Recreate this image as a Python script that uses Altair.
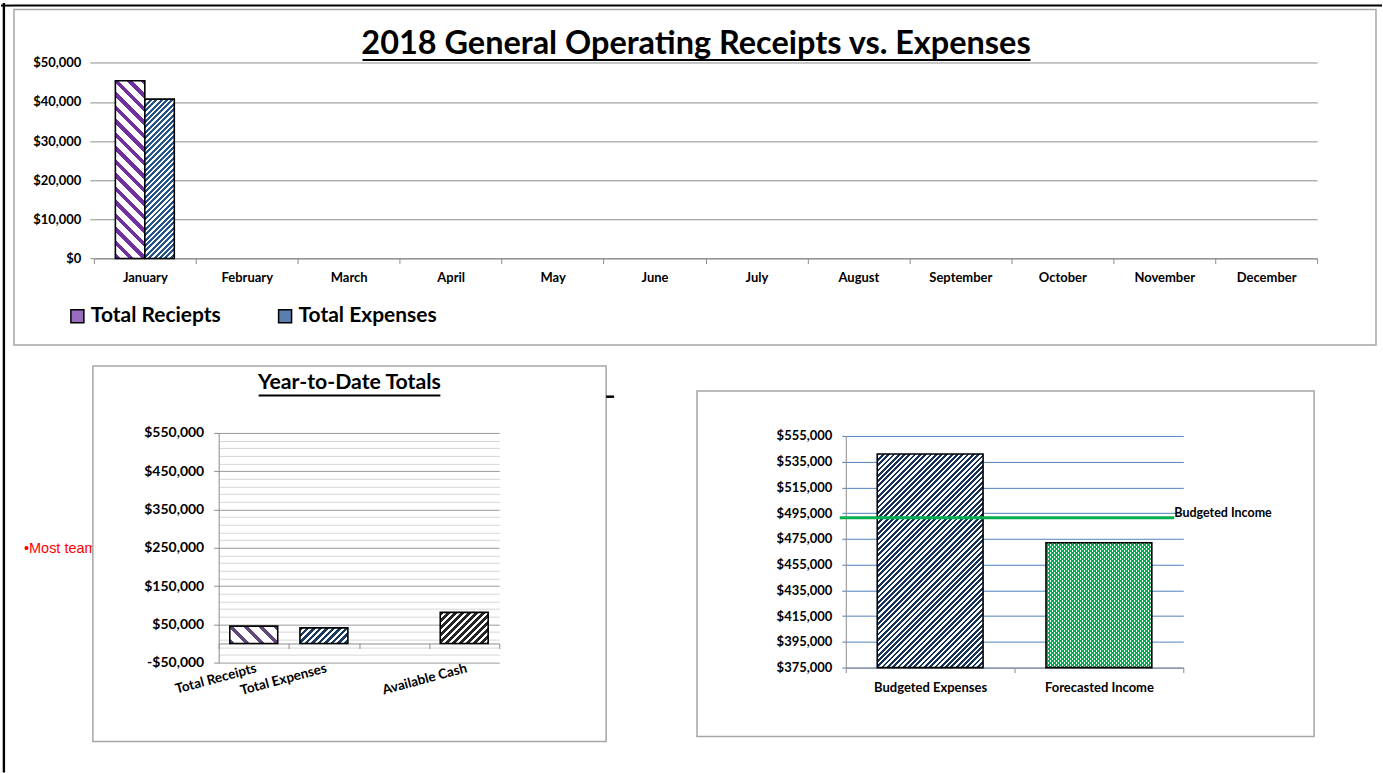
import altair as alt
import pandas as pd

# ---------------- data ----------------
months = ["January", "February", "March", "April", "May", "June",
          "July", "August", "September", "October", "November", "December"]
top_series = ["Total Reciepts", "Total Expenses"]
monthly_receipts = [45400, None, None, None, None, None, None, None, None, None, None, None]
monthly_expenses = [40700, None, None, None, None, None, None, None, None, None, None, None]
top_ticks = [0, 10000, 20000, 30000, 40000, 50000]

ytd_categories = ["Total Receipts", "Total Expenses", " ", "Available Cash"]
ytd_values = [45400, 40700, None, 81100]
ytd_major_ticks = [-50000, 50000, 150000, 250000, 350000, 450000, 550000]
ytd_grid_ticks = [m + 20000 * k for m in ytd_major_ticks[:-1] for k in range(5)] + [550000]

budget_categories = ["Budgeted Expenses", "Forecasted Income"]
budget_values = [541000, 472000]
budgeted_income = 491400
budget_ticks = [375000, 395000, 415000, 435000, 455000, 475000, 495000, 515000, 535000, 555000]

top_title = "2018 General Operating Receipts vs. Expenses"
ytd_title = "Year-to-Date Totals"
income_label = "Budgeted Income"
red_note = "\u2022Most teams"

# ---------------- style ----------------
FONT = "Lato"
FRAME = "#a6a6a6"
GRAY = "#8c8c8c"
BLUE_GRID = "#4f81bd"
PURPLE = "#7030a0"
BLUE = "#24528a"
PURPLE2 = "#5f497a"
NAVY = "#1c3a60"
BLACKISH = "#262626"
NAVY2 = "#17325a"
GREEN = "#00b050"


def stripes(w, h, c1, c2, period, frac, direction):
    """Diagonal hatch built from a hard-stop linear gradient (bbox units)."""
    d = w + h
    s = d / (w * w + h * h)
    if direction == "/":
        x1, y1, x2, y2 = 0, 0, s * w, s * h
    else:
        x1, y1, x2, y2 = 0, 1, s * w, 1 - s * h
    stops = []
    k = 0
    while k * period < d:
        a = k * period / d
        b = min((k + frac) * period / d, 1.0)
        c = min((k + 1) * period / d, 1.0)
        stops += [
            alt.GradientStop(offset=round(a, 5), color=c1),
            alt.GradientStop(offset=round(b, 5), color=c1),
            alt.GradientStop(offset=round(b, 5), color=c2),
            alt.GradientStop(offset=round(c, 5), color=c2),
        ]
        k += 1
    return alt.LinearGradient(gradient="linear", stops=stops,
                              x1=round(x1, 5), y1=round(y1, 5),
                              x2=round(x2, 5), y2=round(y2, 5))


def spacer(w, h):
    return alt.Chart(pd.DataFrame({"t": [""]})).mark_text().encode(
        text="t:N").properties(width=w, height=h)


def one_row():
    return alt.Chart(pd.DataFrame({"a": [0]}))


# ================= top panel =================
TOP_W, TOP_H = 1364, 336
TOP_X0, TOP_X1 = 80, 1305
TOP_Y0, TOP_Y1 = 249.3, 53.3
TOP_OPAD = 0.73
top_step = (TOP_X1 - TOP_X0) / len(months)
top_bar_w = top_step / (2 + 2 * TOP_OPAD)
top_ppx = (TOP_Y0 - TOP_Y1) / 50000

top_df = pd.DataFrame({
    "month": months * 2,
    "series": [top_series[0]] * len(months) + [top_series[1]] * len(months),
    "value": monthly_receipts + monthly_expenses,
})

x_top = alt.X("month:N", sort=months,
              scale=alt.Scale(domain=months, range=[TOP_X0, TOP_X1], paddingInner=0, paddingOuter=0),
              axis=alt.Axis(title=None, orient="bottom", offset=-(TOP_H - TOP_Y0), labelAngle=0,
                            labelFontSize=13, labelPadding=8, tickSize=5, tickColor=GRAY,
                            domainColor=GRAY, tickBand="extent", grid=False, labelOverlap=False))
xo_top = alt.XOffset("series:N", sort=top_series,
                     scale=alt.Scale(domain=top_series, paddingInner=0, paddingOuter=TOP_OPAD))
y_top = alt.Y("value:Q",
              scale=alt.Scale(domain=[0, 50000], range=[TOP_Y0, TOP_Y1], nice=False, zero=False),
              axis=alt.Axis(title=None, values=top_ticks, format="$,.0f", offset=-TOP_X0,
                            domain=False, tickSize=4, tickColor=GRAY, grid=True, gridColor=GRAY,
                            labelFontSize=13, labelPadding=9, labelOverlap=False))

g_rec = stripes(top_bar_w, monthly_receipts[0] * top_ppx, PURPLE, "white", 13.5, 0.4, "\\")
g_exp = stripes(top_bar_w, monthly_expenses[0] * top_ppx, BLUE, "white", 5.4, 0.55, "/")

base_top = alt.Chart(top_df)
top_bars_r = base_top.transform_filter(alt.datum.series == top_series[0]).mark_bar(
    fill=g_rec, stroke="black", strokeWidth=1.6).encode(x=x_top, xOffset=xo_top, y=y_top, y2=alt.datum(0))
top_bars_e = base_top.transform_filter(alt.datum.series == top_series[1]).mark_bar(
    fill=g_exp, stroke="black", strokeWidth=1.6).encode(x=x_top, xOffset=xo_top, y=y_top, y2=alt.datum(0))

top_legend = base_top.mark_square(size=0).encode(
    x=x_top, xOffset=xo_top, y=y_top,
    color=alt.Color("series:N", sort=top_series,
                    scale=alt.Scale(domain=top_series, range=["#9a6cc0", "#5a7fae"]),
                    legend=alt.Legend(
                        title=None, orient="none", legendX=66, legendY=305.5, direction="horizontal",
                        symbolType="square", symbolSize=169, symbolStrokeColor="black",
                        symbolStrokeWidth=1.5, symbolOpacity=1, labelFont=FONT, labelFontSize=21,
                        labelFontWeight="bold", labelColor="black", labelOffset=3,
                        columnPadding=53, padding=0)))

top_title_mark = one_row().mark_text(align="center", baseline="alphabetic", font=FONT, fontSize=32.5,
                                     fontWeight="bold", color="black").encode(
    x=alt.value(TOP_W / 2 + 1), y=alt.value(44.3), text=alt.value(top_title))
top_underline = one_row().mark_rule(color="black", strokeWidth=2).encode(
    x=alt.value(349), x2=alt.value(1018), y=alt.value(50.5))

top_panel = alt.layer(top_bars_r, top_bars_e, top_legend, top_title_mark, top_underline).properties(
    width=TOP_W, height=TOP_H, view=alt.ViewBackground(stroke=FRAME, strokeWidth=1.5))

# ================= bottom-left panel =================
L_W, L_H = 514, 376
L_X0, L_X1 = 126, 407
L_YB, L_YT = 297, 67
L_BAND = 0.683
l_ppx = (L_YB - L_YT) / 600000
l_zero_px = L_YB - 50000 * l_ppx
l_bar_w = L_BAND * (L_X1 - L_X0) / len(ytd_categories)

ytd_df = pd.DataFrame({"cat": ytd_categories, "value": ytd_values})
major_test = "(datum.value + 50000) % 100000 == 0"
x_left = alt.X("cat:N", sort=ytd_categories,
               scale=alt.Scale(domain=ytd_categories, range=[L_X0, L_X1], paddingInner=0, paddingOuter=0),
               axis=alt.Axis(title=None, orient="bottom", offset=-(L_H - l_zero_px), labels=False,
                             tickSize=5, tickColor=GRAY, domainColor=GRAY, tickBand="extent", grid=False))
y_left_scale = alt.Scale(domain=[-50000, 550000], range=[L_YB, L_YT], nice=False, zero=False)
y_left_axis = alt.Axis(title=None, values=ytd_grid_ticks, offset=-L_X0,
                       labelExpr="%s ? ((datum.value < 0 ? '-' : '') + '$' + format(abs(datum.value), ',')) : ''" % major_test,
                       domain=True, domainColor=GRAY, tickSize=5,
                       tickColor={"condition": {"test": major_test, "value": GRAY}, "value": "transparent"},
                       grid=True,
                       gridColor={"condition": {"test": major_test, "value": "#9a9a9a"}, "value": "#d6d6d6"},
                       labelFontSize=14, labelPadding=10, labelOverlap=False)
y_left = alt.Y("value:Q", scale=y_left_scale, axis=y_left_axis)

l_specs = [
    (ytd_categories[0], stripes(l_bar_w, ytd_values[0] * l_ppx, PURPLE2, "white", 15, 0.33, "\\")),
    (ytd_categories[1], stripes(l_bar_w, ytd_values[1] * l_ppx, NAVY, "white", 6.5, 0.5, "/")),
    (ytd_categories[3], stripes(l_bar_w, ytd_values[3] * l_ppx, BLACKISH, "white", 7, 0.55, "/")),
]
l_layers = []
for cat, grad in l_specs:
    l_layers.append(alt.Chart(ytd_df).transform_filter(alt.datum.cat == cat).mark_bar(
        fill=grad, stroke="black", strokeWidth=1.6, width=alt.RelativeBandSize(L_BAND)).encode(
        x=x_left, y=y_left, y2=alt.datum(0)))

l_labels = alt.Chart(ytd_df).mark_text(angle=345, align="right", baseline="top", dx=1, dy=-1,
                                       font=FONT, fontWeight="bold", fontSize=13.5, color="black").encode(
    x=x_left, y=alt.Y(datum=-50000, scale=y_left_scale, axis=y_left_axis), text="cat:N")
l_title = one_row().mark_text(align="center", baseline="alphabetic", font=FONT, fontSize=21.3,
                              fontWeight="bold", color="black").encode(
    x=alt.value(257), y=alt.value(23.5), text=alt.value(ytd_title))
l_underline = one_row().mark_rule(color="black", strokeWidth=2).encode(
    x=alt.value(166), x2=alt.value(348), y=alt.value(29.5))
l_dash = one_row().mark_rule(color="black", strokeWidth=2.5).encode(
    x=alt.value(514), x2=alt.value(522), y=alt.value(30.7))

left_panel = alt.layer(*l_layers, l_labels, l_title, l_underline, l_dash).properties(
    width=L_W, height=L_H, view=alt.ViewBackground(stroke=FRAME, strokeWidth=1.5))

# ================= bottom-right panel =================
R_W, R_H = 618, 346
R_X0, R_X1 = 149, 487
R_YB, R_YT = 277, 45
R_BAND = 0.627
r_ppx = (R_YB - R_YT) / 180000
r_bar_w = R_BAND * (R_X1 - R_X0) / len(budget_categories)

bud_df = pd.DataFrame({"cat": budget_categories, "value": budget_values})
x_right = alt.X("cat:N", sort=budget_categories,
                scale=alt.Scale(domain=budget_categories, range=[R_X0, R_X1], paddingInner=0, paddingOuter=0),
                axis=alt.Axis(title=None, orient="bottom", offset=-(R_H - R_YB), labelAngle=0,
                              labelFontSize=13, labelPadding=9, tickSize=5, tickColor=GRAY,
                              domainColor=GRAY, tickBand="extent", grid=False, labelOverlap=False))
y_right = alt.Y("value:Q",
                scale=alt.Scale(domain=[375000, 555000], range=[R_YB, R_YT], nice=False, zero=False),
                axis=alt.Axis(title=None, values=budget_ticks, format="$,.0f", offset=-R_X0,
                              domain=True, domainColor=GRAY, tickSize=4, tickColor=BLUE_GRID,
                              grid=True, gridColor=BLUE_GRID, labelFontSize=13, labelPadding=10,
                              labelOverlap=False))

h_exp = (budget_values[0] - 375000) * r_ppx
h_inc = (budget_values[1] - 375000) * r_ppx
r_exp = alt.Chart(bud_df).transform_filter(alt.datum.cat == budget_categories[0]).mark_bar(
    fill=stripes(r_bar_w, h_exp, NAVY2, "white", 5.3, 0.52, "/"), stroke="black", strokeWidth=1.6,
    width=alt.RelativeBandSize(R_BAND)).encode(x=x_right, y=y_right, y2=alt.datum(375000))
r_inc_a = alt.Chart(bud_df).transform_filter(alt.datum.cat == budget_categories[1]).mark_bar(
    fill=stripes(r_bar_w, h_inc, GREEN, "white", 4, 0.5, "/"),
    width=alt.RelativeBandSize(R_BAND)).encode(x=x_right, y=y_right, y2=alt.datum(375000))
r_inc_b = alt.Chart(bud_df).transform_filter(alt.datum.cat == budget_categories[1]).mark_bar(
    fill=stripes(r_bar_w, h_inc, GREEN, "rgba(0,176,80,0)", 4, 0.5, "\\"),
    stroke="black", strokeWidth=1.6,
    width=alt.RelativeBandSize(R_BAND)).encode(x=x_right, y=y_right, y2=alt.datum(375000))

inc_df = pd.DataFrame({"label": [income_label], "value": [budgeted_income]})
r_line = alt.Chart(inc_df).mark_rule(color=GREEN, strokeWidth=3).encode(
    x=alt.value(143), x2=alt.value(478), y=y_right)
r_text = alt.Chart(inc_df).mark_text(align="left", baseline="middle", dy=-5, font=FONT,
                                     fontWeight="bold", fontSize=12.5, color="black").encode(
    x=alt.value(478), y=y_right, text="label:N")

right_panel = alt.layer(r_exp, r_inc_a, r_inc_b, r_line, r_text).properties(
    width=R_W, height=R_H, view=alt.ViewBackground(stroke=FRAME, strokeWidth=1.5))

# ================= page decorations & layout =================
left_col = alt.layer(
    one_row().mark_rule(color="black", strokeWidth=2.4).encode(
        x=alt.value(2.9), y=alt.value(2.5), y2=alt.value(773)),
    one_row().mark_rule(color="black", strokeWidth=2).encode(
        x=alt.value(0), x2=alt.value(13), y=alt.value(5)),
).properties(width=13, height=773)

strip = one_row().mark_rule(color="black", strokeWidth=2).encode(
    x=alt.value(0), x2=alt.value(1370), y=alt.value(5)).properties(width=1370, height=9)

red_spacer = alt.Chart(pd.DataFrame({"note": [red_note]})).mark_text(
    align="left", baseline="middle", font="Liberation Sans", fontSize=14.5, color="#ff0000",
    clip=True).encode(x=alt.value(10), y=alt.value(183), text="note:N").properties(width=79, height=376)

right_col = alt.vconcat(spacer(R_W, 25), right_panel, spacing=0, bounds="flush")
row2 = alt.hconcat(red_spacer, left_panel, spacer(91, L_H), right_col, spacing=0, bounds="flush")
main_col = alt.vconcat(strip, top_panel, spacer(TOP_W, 21), row2, spacing=0, bounds="flush")

chart = alt.hconcat(left_col, main_col, spacing=0, bounds="flush").properties(
    padding=0, background="white"
).configure(font=FONT).configure_view(strokeWidth=0).configure_axis(
    labelFont=FONT, labelFontWeight="bold", labelColor="black")

chart.save("out.html", embed_options={"renderer": "svg", "actions": False})
